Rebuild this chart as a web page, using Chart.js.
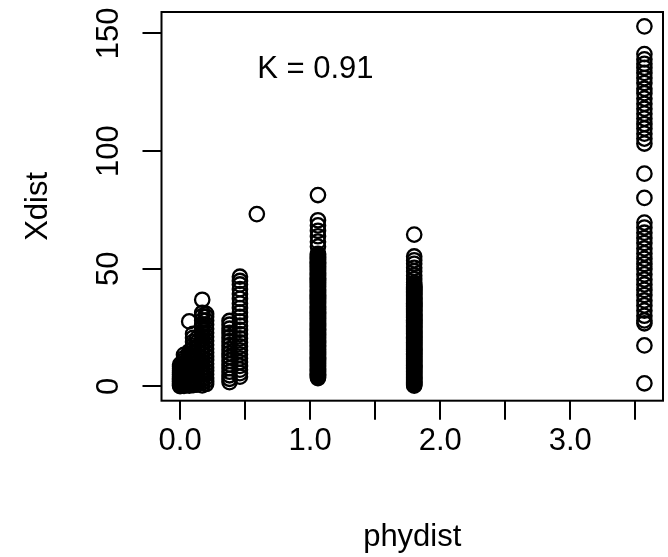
<!DOCTYPE html>
<html>
<head>
<meta charset="utf-8">
<script src="https://cdn.jsdelivr.net/npm/chart.js@4.4.1/dist/chart.umd.min.js"></script>
<style>
  html, body { margin: 0; padding: 0; background: #fff; }
</style>
</head>
<body>
<canvas id="kChart" width="668" height="557"></canvas>
<script>
// phylogenetic distance levels (x) and the Xdist values found at each one
const phyLevels = [0, 0.03, 0.07, 0.1, 0.13, 0.17, 0.2, 0.38, 0.46, 0.59, 1.06, 1.06, 1.8, 1.8, 3.57];

const xd000 = [0.1, 0.5, 0.9, 1.3, 1.8, 2.2, 2.7, 3.1, 3.6, 4.2, 4.8, 5.3, 6.0, 6.7, 7.5, 8.3, 9.2];
const xd003 = [0.2, 0.8, 1.5, 2.1, 2.8, 3.6, 4.3, 5.1, 6.0, 6.9, 7.8, 8.8, 9.9, 10.9, 12.0, 13.4];
const xd007 = [0.3, 1.0, 1.8, 2.6, 3.5, 4.4, 5.4, 6.4, 7.5, 8.6, 9.8, 11.0, 12.3, 13.6, 14.8, 27.6];
const xd010 = [0.5, 1.4, 2.4, 3.5, 4.6, 5.8, 7.0, 8.3, 9.6, 11.0, 12.5, 14.0, 15.6, 17.2, 18.9, 20.6, 22.3];
const xd013 = [0.7, 1.8, 3.0, 4.3, 5.6, 7.0, 8.5, 10.0, 11.6, 13.3, 15.0, 16.8, 18.7, 20.4];
const xd017 = [0.4, 1.5, 2.7, 3.9, 5.2, 6.5, 7.9, 9.3, 10.7, 12.1, 13.6, 15.1, 16.6, 18.2, 19.8, 21.4, 23.0, 24.7, 26.4, 28.1, 29.9, 31.2, 36.8];
const xd020 = [1.0, 2.3, 3.7, 5.1, 6.6, 8.1, 9.6, 11.2, 12.8, 14.4, 16.0, 17.7, 19.4, 21.1, 22.8, 24.5, 26.3, 28.0, 29.6, 30.8];
const xd038 = [1.8, 3.2, 4.7, 6.2, 7.7, 9.3, 10.9, 12.5, 14.1, 15.8, 17.5, 19.2, 20.9, 22.7, 24.5, 26.2, 27.8];
const xd046 = [4.1, 5.6, 7.1, 8.7, 10.3, 11.9, 13.6, 15.3, 17.0, 18.7, 20.4, 22.2, 24.0, 25.8, 27.6, 29.5, 31.4, 33.3, 35.2, 37.2, 39.2, 41.3, 43.3, 44.8, 46.6];
const xd059 = [73.2];
const xd106 = [81.3, 70.6, 68.4, 66.1, 63.8, 61.5, 59.4,
  56.3, 55.5, 54.8, 54.0, 53.1, 52.4, 51.6, 50.7, 50.0, 49.2, 48.3, 47.6, 46.8, 45.9, 45.2, 44.4, 43.5, 42.8,
  42.0, 41.1, 40.4, 39.6, 38.7, 38.0, 37.2, 36.3, 35.6, 34.8, 33.9, 33.2, 32.4, 31.5, 30.8, 30.0, 29.1, 28.4,
  27.6, 26.7, 26.0, 25.2, 24.3, 23.6, 22.8, 21.9, 21.2, 20.4, 19.5, 18.8, 18.0, 17.1, 16.4, 15.6, 14.7, 14.0,
  13.2, 12.3, 11.6, 10.8, 9.9, 9.2, 8.4, 7.5, 6.8, 6.0, 5.1, 4.4, 3.5];
const xd106b = [55.9, 55.1, 54.4, 53.6, 52.7, 52.0, 51.1, 50.3, 49.6, 48.7, 48.0, 47.2, 46.3, 45.6, 44.8, 43.9,
  43.2, 42.4, 41.5, 40.8, 40.0, 39.1, 38.4, 37.6, 36.7, 36.0, 35.2, 34.3, 33.6, 32.8, 31.9, 31.2, 30.4, 29.5,
  28.8, 28.0, 27.1, 26.4, 25.6, 24.7, 24.0, 23.2, 22.3, 21.6, 20.8, 19.9, 19.2, 18.4, 17.5, 16.8, 16.0, 15.1,
  14.4, 13.6, 12.7, 12.0, 11.2, 10.3, 9.6, 8.8, 7.9, 7.2, 6.4, 5.5, 4.8, 4.0];
const xd180 = [64.5, 55.2, 53.6, 52.1, 50.4, 48.9, 47.1, 45.6, 44.0, 43.3,
  42.6, 41.8, 41.0, 40.1, 39.4, 38.6, 37.7, 37.0, 36.2, 35.3, 34.6, 33.8, 32.9, 32.2, 31.4, 30.5, 29.8, 29.0,
  28.1, 27.4, 26.6, 25.7, 25.0, 24.2, 23.3, 22.6, 21.8, 20.9, 20.2, 19.4, 18.5, 17.8, 17.0, 16.1, 15.4, 14.6,
  13.7, 13.0, 12.2, 11.3, 10.6, 9.8, 8.9, 8.2, 7.4, 6.5, 5.8, 5.0, 4.1, 3.4, 2.6, 1.7, 1.0, 0.3];
const xd180b = [42.2, 41.4, 40.5, 39.8, 39.0, 38.1, 37.4, 36.6, 35.7, 35.0, 34.2, 33.3, 32.6, 31.8, 30.9, 30.2,
  29.4, 28.5, 27.8, 27.0, 26.1, 25.4, 24.6, 23.7, 23.0, 22.2, 21.3, 20.6, 19.8, 18.9, 18.2, 17.4, 16.5, 15.8,
  15.0, 14.1, 13.4, 12.6, 11.7, 11.0, 10.2, 9.3, 8.6, 7.8, 6.9, 6.2, 5.4, 4.5, 3.8, 3.0, 2.1, 1.4, 0.7];
const xd357 = [153.0, 141.2, 139.0, 137.1, 135.4, 133.2, 131.0, 128.9, 126.5, 124.6, 122.3, 120.1, 118.0, 115.9,
  113.8, 111.5, 109.6, 107.4, 105.3, 103.2, 90.4, 80.1, 69.6, 67.5, 65.3, 63.0, 60.9, 58.6, 56.5, 54.2, 52.0,
  49.9, 47.6, 45.4, 43.3, 41.0, 38.8, 36.5, 34.4, 32.2, 30.0, 28.0, 26.8, 17.4, 1.3];

const xdistByLevel = [xd000, xd003, xd007, xd010, xd013, xd017, xd020, xd038, xd046, xd059,
  xd106, xd106b, xd180, xd180b, xd357];

const xTicks = [0, 0.5, 1, 1.5, 2, 2.5, 3, 3.5];
const xTickLabels = ['0.0', '', '1.0', '', '2.0', '', '3.0', ''];
const yTicks = [0, 50, 100, 150];
const yTickLabels = ['0', '50', '100', '150'];

const kLabel = 'K = 0.91';

const FONT = { family: '"Liberation Sans", Arial, Helvetica, sans-serif', size: 31, lineHeight: 1.2 };

const points = [];
phyLevels.forEach((px, i) => {
  xdistByLevel[i].forEach(v => points.push({ x: px, y: v }));
});

// box round the plot area + the K annotation, R style
const rFrame = {
  id: 'rFrame',
  afterDraw(chart) {
    const { ctx, chartArea: a, scales } = chart;
    ctx.save();
    ctx.strokeStyle = '#000';
    ctx.lineWidth = 2;
    ctx.strokeRect(a.left, a.top, a.right - a.left, a.bottom - a.top);
    ctx.fillStyle = '#000';
    ctx.font = `${FONT.size}px ${FONT.family}`;
    ctx.textAlign = 'center';
    ctx.textBaseline = 'middle';
    ctx.fillText(kLabel, scales.x.getPixelForValue(1.04), scales.y.getPixelForValue(134.5));
    ctx.restore();
  }
};

new Chart(document.getElementById('kChart').getContext('2d'), {
  type: 'scatter',
  data: {
    datasets: [{
      data: points,
      pointStyle: 'circle',
      pointRadius: 7.2,
      pointBorderWidth: 2.3,
      pointBorderColor: '#000',
      pointBackgroundColor: 'rgba(0,0,0,0)'
    }]
  },
  options: {
    responsive: false,
    animation: false,
    layout: { autoPadding: false, padding: { top: 12, right: 5, left: 0, bottom: 0 } },
    plugins: { legend: { display: false }, tooltip: { enabled: false } },
    scales: {
      x: {
        type: 'linear',
        min: -0.143,
        max: 3.713,
        afterBuildTicks: s => { s.ticks = xTicks.map(v => ({ value: v })); },
        afterFit: s => { s.height = 156.3; s.paddingLeft = 0; s.paddingRight = 0; },
        grid: { drawOnChartArea: false, drawTicks: true, tickLength: 19, color: '#000', lineWidth: 2 },
        border: { display: false },
        ticks: {
          color: '#000', font: FONT, padding: 3, autoSkip: false, maxRotation: 0,
          callback: (v, i) => xTickLabels[i]
        },
        title: { display: true, text: 'phydist', color: '#000', font: FONT, padding: { top: 0, bottom: 1 } }
      },
      y: {
        type: 'linear',
        min: -6.1,
        max: 159.1,
        afterBuildTicks: s => { s.ticks = yTicks.map(v => ({ value: v })); },
        afterFit: s => { s.width = 161.5; s.paddingTop = 0; s.paddingBottom = 0; },
        grid: { drawOnChartArea: false, drawTicks: true, tickLength: 19, color: '#000', lineWidth: 2 },
        border: { display: false },
        ticks: {
          color: '#000', font: FONT, padding: 7, autoSkip: false,
          minRotation: 90, maxRotation: 90, crossAlign: 'center',
          callback: (v, i) => yTickLabels[i]
        },
        title: { display: true, text: 'Xdist', color: '#000', font: FONT, padding: { top: 20, bottom: 0 } }
      }
    }
  },
  plugins: [rFrame]
});
</script>
</body>
</html>
